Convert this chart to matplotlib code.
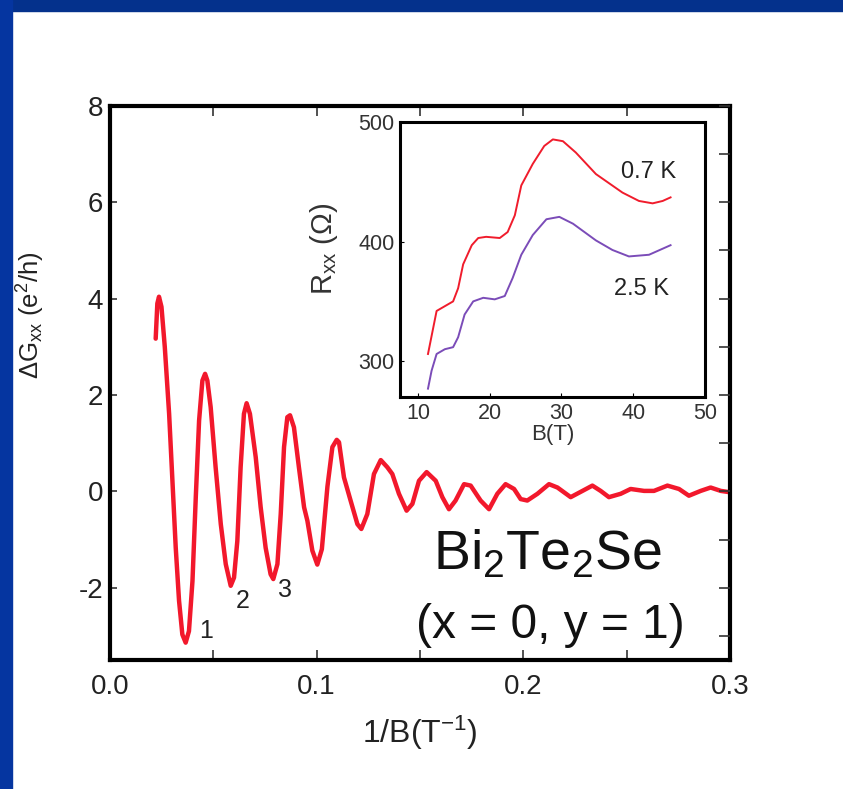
import matplotlib
matplotlib.use("Agg")
import matplotlib.pyplot as plt
from matplotlib.patches import Rectangle
from matplotlib.ticker import MultipleLocator

plt.rcParams['font.family'] = ['Liberation Sans', 'DejaVu Sans']
plt.rcParams['mathtext.fontset'] = 'custom'
plt.rcParams['mathtext.rm'] = 'Liberation Sans'
plt.rcParams['mathtext.it'] = 'Liberation Sans:italic'
plt.rcParams['axes.unicode_minus'] = False

# --- main curve : dG_xx vs 1/B
inv_b = [0.0221, 0.0229, 0.0237, 0.0249, 0.0265, 0.0286, 0.0302, 0.0318, 0.0334, 0.0350,
         0.0366, 0.0382, 0.0399, 0.0415, 0.0431, 0.0447, 0.0460, 0.0471, 0.0487, 0.0511,
         0.0536, 0.0560, 0.0584, 0.0600, 0.0616, 0.0632, 0.0648, 0.0661, 0.0677, 0.0705,
         0.0729, 0.0753, 0.0777, 0.0790, 0.0810, 0.0826, 0.0842, 0.0858, 0.0871, 0.0890,
         0.0914, 0.0939, 0.0955, 0.0979, 0.1003, 0.1025, 0.1052, 0.1076, 0.1097, 0.1108,
         0.1132, 0.1164, 0.1197, 0.1216, 0.1245, 0.1277, 0.1310, 0.1342, 0.1366, 0.1398,
         0.1435, 0.1463, 0.1495, 0.1532, 0.1576, 0.1608, 0.1640, 0.1672, 0.1713, 0.1745,
         0.1793, 0.1834, 0.1874, 0.1914, 0.1955, 0.1987, 0.2019, 0.2068, 0.2124, 0.2165,
         0.2229, 0.2286, 0.2334, 0.2374, 0.2414, 0.2471, 0.2519, 0.2584, 0.2632, 0.2697,
         0.2753, 0.2801, 0.2858, 0.2906, 0.2955, 0.3003]
dg = [3.17, 3.90, 4.04, 3.83, 3.00, 1.61, 0.22, -1.17, -2.27, -2.97,
      -3.14, -2.90, -1.86, -0.12, 1.47, 2.30, 2.44, 2.30, 1.75, 0.50,
      -0.68, -1.51, -1.96, -1.79, -1.03, 0.50, 1.61, 1.83, 1.61, 0.71,
      -0.33, -1.17, -1.72, -1.82, -1.51, -0.47, 0.92, 1.54, 1.58, 1.33,
      0.50, -0.33, -0.61, -1.23, -1.52, -1.20, 0.10, 0.92, 1.07, 1.02,
      0.29, -0.19, -0.68, -0.78, -0.47, 0.36, 0.65, 0.50, 0.36, -0.05,
      -0.40, -0.26, 0.22, 0.40, 0.22, -0.12, -0.37, -0.19, 0.15, 0.12,
      -0.19, -0.37, -0.05, 0.15, 0.05, -0.16, -0.19, -0.05, 0.15, 0.08,
      -0.12, 0.01, 0.12, 0.01, -0.12, -0.05, 0.05, 0.01, 0.01, 0.12,
      0.05, -0.09, 0.01, 0.08, 0.01, -0.02]

# --- inset : R_xx vs B
b_07 = [11.4, 12.6, 13.75, 14.9, 15.6, 16.3, 17.5, 18.4, 19.5, 21.4, 22.5, 23.5, 24.4,
        26.0, 27.6, 28.8, 30.2, 32.0, 34.8, 38.5, 40.8, 42.7, 44.1, 45.2]
r_07 = [306, 342, 346, 350, 361, 381, 397, 403, 404, 403, 408, 422, 447,
        465, 480, 485.5, 484, 474.5, 456.5, 441, 434, 432, 434, 437]
b_25 = [11.4, 11.9, 12.6, 13.75, 14.9, 15.6, 16.5, 17.7, 19.1, 20.7, 22.1, 23.2, 24.4,
        26.0, 27.9, 29.7, 31.6, 34.8, 37.1, 39.4, 42.2, 45.2]
r_25 = [277, 292, 306, 310, 311.7, 320, 339, 350, 353, 351.7, 354.5, 369.6, 389,
        405.5, 418.7, 420.7, 415, 401, 393, 387.6, 389, 397]

peak_labels = ["1", "2", "3"]
peak_x = [0.0463, 0.0643, 0.0845]
peak_y = [-2.90, -2.27, -2.05]

fig = plt.figure(figsize=(8.43, 7.89), dpi=100)

# slide background bands (top + left)
fig.patches.append(Rectangle((0, 1 - 11/789), 1, 11/789, transform=fig.transFigure,
                             color='#04318c', zorder=-10))
fig.patches.append(Rectangle((0, 0), 12/843, 1, transform=fig.transFigure,
                             color='#0535a0', zorder=-10))

ax = fig.add_axes([0.1305, 0.1635, 0.7355, 0.7022])
ax.plot(inv_b, dg, color='#f2182c', lw=3.2, solid_joinstyle='round', solid_capstyle='round')
ax.set_xlim(0, 0.3)
ax.set_ylim(-3.5, 8)
ax.xaxis.set_minor_locator(MultipleLocator(0.05))
ax.yaxis.set_major_locator(MultipleLocator(2))
ax.set_xticks([0, 0.1, 0.2, 0.3])
ax.set_xticklabels(['0.0', '0.1', '0.2', '0.3'])
for s in ax.spines.values():
    s.set_linewidth(3)
ax.tick_params(axis='both', which='both', direction='in', width=1.2, labelsize=20,
               color='#333333', labelcolor='#222222')
ax.tick_params(axis='x', which='both', top=True, length=7, pad=10)
ax.tick_params(axis='y', which='major', length=5, pad=5)
ax.set_xlabel('1/B(T$^{\\mathregular{-1}}$)', fontsize=23, color='#222222')
ax.xaxis.set_label_coords(0.5, -0.097)
ax.set_ylabel('$\\mathregular{\\Delta G_{xx}}$ (e$^{\\mathregular{2}}$/h)', fontsize=18.5,
              color='#222222')
ax.yaxis.set_label_coords(-0.102, 0.623)

# right-side ticks every 1 unit, no labels
axr = ax.twinx()
axr.set_ylim(-3.5, 8)
axr.yaxis.set_major_locator(MultipleLocator(1))
axr.tick_params(axis='y', direction='in', length=8, width=1.2, labelright=False, color='#333333')
for s in axr.spines.values():
    s.set_visible(False)

for t, x, y in zip(peak_labels, peak_x, peak_y):
    ax.text(x, y, t, fontsize=18, ha='center', va='center', color='#222222')

ax.text(0.705, 0.19, 'Bi$_{\\mathregular{2}}$Te$_{\\mathregular{2}}$Se', transform=ax.transAxes,
        fontsize=40, ha='center', va='center', color='#111111')
ax.text(0.71, 0.063, '(x = 0, y = 1)', transform=ax.transAxes,
        fontsize=34.5, ha='center', va='center', color='#111111')

# inset
ins = fig.add_axes([0.4745, 0.4968, 0.3618, 0.3485])
ins.plot(b_07, r_07, color='#f01c2c', lw=1.4)
ins.plot(b_25, r_25, color='#7b4cb8', lw=1.4)
ins.set_xlim(7.5, 50)
ins.set_ylim(270, 500)
ins.xaxis.set_major_locator(MultipleLocator(10))
ins.yaxis.set_major_locator(MultipleLocator(100))
for s in ins.spines.values():
    s.set_linewidth(2.2)
ins.tick_params(axis='both', direction='in', length=3, width=0.8, labelsize=15.5,
                labelcolor='#333333', pad=4)
ins.set_xlabel('B(T)', fontsize=16, color='#333333', labelpad=0)
ins.set_ylabel('R$_{\\mathregular{xx}}$ ($\\mathregular{\\Omega}$)', fontsize=21, color='#333333')
ins.yaxis.set_label_coords(-0.197, 0.54)
ins.text(42.2, 458, '0.7 K', fontsize=17, ha='center', va='center', color='#222222')
ins.text(41.1, 360, '2.5 K', fontsize=17, ha='center', va='center', color='#222222')

fig.savefig('out.png', dpi=100, facecolor='white')
